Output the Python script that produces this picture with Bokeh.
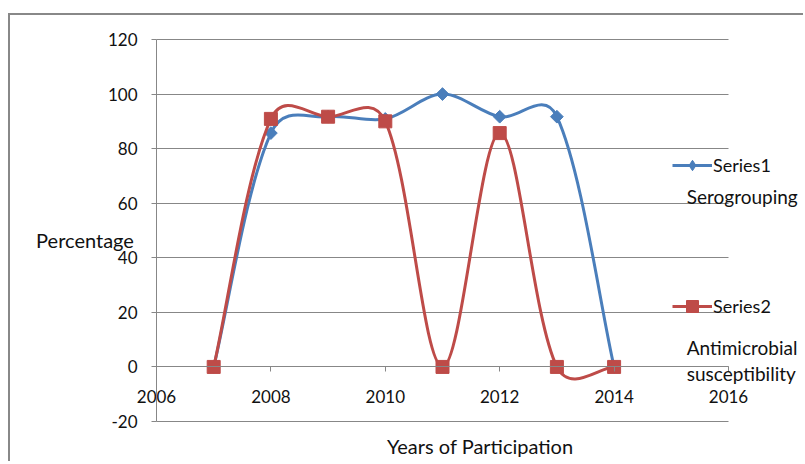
import math
from bokeh.plotting import figure
from bokeh.models import (ColumnDataSource, LinearAxis, FixedTicker, Range1d, Label,
                          Legend, LegendItem, Grid)
from bokeh.embed import file_html
from bokeh.resources import INLINE

# ---------------- data ----------------
years = [2007, 2008, 2009, 2010, 2011, 2012, 2013, 2014]
series1 = [0, 85.7, 91.7, 90.9, 100, 91.7, 91.7, 0]      # Serogrouping
series2 = [0, 90.9, 91.7, 90, 0, 85.7, 0, 0]             # Antimicrobial susceptibility
series_names = ["Series1", "Series2"]
side_label1 = "Serogrouping"
side_label2 = ["Antimicrobial", "susceptibility"]
x_ticks = [2006, 2008, 2010, 2012, 2014, 2016]
y_ticks = [-20, 0, 20, 40, 60, 80, 100, 120]
x_title = "Years of Participation"
y_title = "Percentage"

# ---------------- style / layout ----------------
BLUE = "#4A7EBB"
RED = "#BE4B48"
GRID = "#878787"
TEXT = "#111111"
FONT = "Lato"

OX, OY = 10, 15          # page position of the canvas (after margin + border)
W, H = 795, 448
# page position of the axis box: x 2006..2016, y -20..120
AX_L, AX_R, AX_T, AX_B = 156 - OX, 728 - OX, 39 - OY, 421 - OY
PX_PER_X = (AX_R - AX_L) / (x_ticks[-1] - x_ticks[0])
PX_PER_Y = (AX_B - AX_T) / (y_ticks[-1] - y_ticks[0])
x_start = x_ticks[0] - AX_L / PX_PER_X
x_end = x_ticks[-1] + (W - AX_R) / PX_PER_X
y_end = y_ticks[-1] + AX_T / PX_PER_Y
y_start = y_ticks[0] - (H - AX_B) / PX_PER_Y


def smooth_segments(xs, ys):
    """Excel-like smoothed line: cubic Bezier control points from neighbours."""
    P = [(x * PX_PER_X, y * PX_PER_Y) for x, y in zip(xs, ys)]
    n = len(P)
    out = {k: [] for k in ("x0", "y0", "x1", "y1", "cx0", "cy0", "cx1", "cy1")}

    def dist(a, b):
        return math.hypot(a[0] - b[0], a[1] - b[1])

    def k(d_other, d_own):
        if d_other + d_own == 0:
            return 1 / 6
        return 0.5 * (1 / 6 + d_own / (d_other + d_own) / 3)

    for i in range(n - 1):
        p0, p1, p2, p3 = P[max(i - 1, 0)], P[i], P[i + 1], P[min(i + 2, n - 1)]
        d01, d12, d23 = dist(p0, p1), dist(p1, p2), dist(p2, p3)
        ka, kb = k(d01, d12), k(d23, d12)
        c0 = (p1[0] + (p2[0] - p0[0]) * ka, p1[1] + (p2[1] - p0[1]) * ka)
        c1 = (p2[0] - (p3[0] - p1[0]) * kb, p2[1] - (p3[1] - p1[1]) * kb)
        out["x0"].append(p1[0] / PX_PER_X); out["y0"].append(p1[1] / PX_PER_Y)
        out["x1"].append(p2[0] / PX_PER_X); out["y1"].append(p2[1] / PX_PER_Y)
        out["cx0"].append(c0[0] / PX_PER_X); out["cy0"].append(c0[1] / PX_PER_Y)
        out["cx1"].append(c1[0] / PX_PER_X); out["cy1"].append(c1[1] / PX_PER_Y)
    return out


p = figure(width=W, height=H, output_backend="svg", toolbar_location=None,
           x_range=Range1d(x_start, x_end), y_range=Range1d(y_start, y_end),
           x_axis_type=None, y_axis_type=None,
           min_border_left=0, min_border_right=0, min_border_top=0, min_border_bottom=0)
p.outline_line_color = None
p.background_fill_color = "white"
p.border_fill_color = "white"
p.styles = {"border-top": "2px solid #888888", "border-left": "2px solid #888888",
            "margin-top": f"{OY - 2}px", "margin-left": f"{OX - 2}px"}

# horizontal gridlines limited to the axis box
try:
    grid = Grid(dimension=1, ticker=FixedTicker(ticks=y_ticks), grid_line_color=GRID,
                grid_line_width=1, cross_bounds=(x_ticks[0], x_ticks[-1]))
    p.add_layout(grid)
except Exception:
    p.segment(x0=[x_ticks[0]] * len(y_ticks), x1=[x_ticks[-1]] * len(y_ticks),
              y0=y_ticks, y1=y_ticks, line_color=GRID, line_width=1)

yaxis = LinearAxis(ticker=FixedTicker(ticks=y_ticks), fixed_location=x_ticks[0],
                   bounds=(y_ticks[0], y_ticks[-1]))
xaxis = LinearAxis(ticker=FixedTicker(ticks=x_ticks), fixed_location=0,
                   bounds=(x_ticks[0], x_ticks[-1]))
for ax in (yaxis, xaxis):
    ax.axis_line_color = GRID
    ax.major_tick_line_color = GRID
    ax.major_tick_out = 5
    ax.major_tick_in = 0
    ax.minor_tick_line_color = None
    ax.major_label_text_font = FONT
    ax.major_label_text_font_size = "17px"
    ax.major_label_text_color = TEXT
yaxis.major_label_standoff = 14
yaxis.major_label_overrides = {t: str(t) for t in y_ticks}
xaxis.major_label_standoff = 18
p.add_layout(yaxis, "left")
p.add_layout(xaxis, "below")

# series 1
s1 = ColumnDataSource(smooth_segments(years, series1))
p.bezier(x0="x0", y0="y0", x1="x1", y1="y1", cx0="cx0", cy0="cy0", cx1="cx1", cy1="cy1",
         source=s1, line_color=BLUE, line_width=3, line_cap="round")
p.scatter(years, series1, marker="square", size=9, angle=math.pi / 4,
          fill_color=BLUE, line_color=BLUE)
# series 2
s2 = ColumnDataSource(smooth_segments(years, series2))
p.bezier(x0="x0", y0="y0", x1="x1", y1="y1", cx0="cx0", cy0="cy0", cx1="cx1", cy1="cy1",
         source=s2, line_color=RED, line_width=3, line_cap="round")
p.scatter(years, series2, marker="square", size=13, fill_color=RED, line_color=RED)

# legend proxies (a single NaN point: nothing drawn in the plot area)
nan = [float("nan")]
l1 = p.line(x=nan, y=nan, line_color=BLUE, line_width=3)
m1 = p.scatter(x=nan, y=nan, marker="diamond", fill_color=BLUE, line_color=BLUE)
l2 = p.line(x=nan, y=nan, line_color=RED, line_width=3)
m2 = p.scatter(x=nan, y=nan, marker="square", fill_color=RED, line_color=RED)

common = dict(glyph_width=40, label_standoff=1, padding=0, margin=0, spacing=0,
              background_fill_alpha=0, border_line_alpha=0, label_text_font=FONT,
              label_text_font_size="18px", label_text_color=TEXT,
              label_text_baseline="middle")
leg1 = Legend(items=[LegendItem(label=series_names[0], renderers=[l1, m1])],
              location=(672 - OX, H - (178 - OY)), glyph_height=26, **common)
leg2 = Legend(items=[LegendItem(label=series_names[1], renderers=[l2, m2])],
              location=(672 - OX, H - (321 - OY)), glyph_height=30, **common)
p.add_layout(leg1)
p.add_layout(leg2)

lab = dict(text_font=FONT, text_font_size="20px", text_color=TEXT, text_baseline="middle")
side = dict(text_font=FONT, text_font_size="19px", text_color=TEXT, text_baseline="middle")
p.add_layout(Label(x=2004.75, y=46.7, text=y_title, text_align="center", **lab))
p.add_layout(Label(x=2011.66, y=-28.8, text=x_title, text_align="center", **lab))
p.add_layout(Label(x=2015.27, y=62.5, text=side_label1, text_align="left", **side))
p.add_layout(Label(x=2015.27, y=7.1, text=side_label2[0], text_align="left", **side))
p.add_layout(Label(x=2015.27, y=-2.4, text=side_label2[1], text_align="left", **side))

open("out.html", "w").write(file_html(p, INLINE))
